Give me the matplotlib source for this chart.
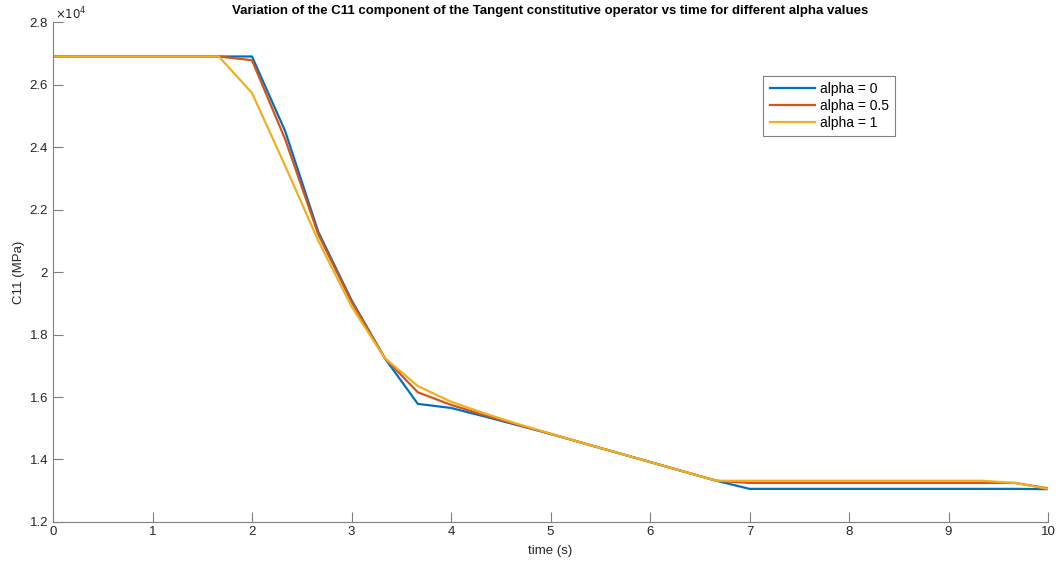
import matplotlib.pyplot as plt
import matplotlib.ticker as mticker
import numpy as np

plt.rcParams['font.family'] = ['Liberation Sans', 'DejaVu Sans']

# time steps (dt = 1/3 s)
time = np.arange(31) / 3.0

# C11 in MPa
c11_alpha0 = [26900, 26900, 26900, 26900, 26900, 26900, 26900, 24510, 21280, 19100,
              17250, 15780, 15650, 15380, 15100, 14820, 14520, 14220, 13920, 13620,
              13320, 13060, 13060, 13060, 13060, 13060, 13060, 13060, 13060, 13060,
              13050]
c11_alpha05 = [26900, 26900, 26900, 26900, 26900, 26900, 26780, 24250, 21200, 19050,
               17250, 16150, 15750, 15420, 15120, 14820, 14520, 14220, 13920, 13620,
               13320, 13250, 13250, 13250, 13250, 13250, 13250, 13250, 13250, 13250,
               13080]
c11_alpha1 = [26900, 26900, 26900, 26900, 26900, 26900, 25730, 23400, 21000, 18900,
              17250, 16350, 15850, 15480, 15140, 14830, 14520, 14220, 13920, 13620,
              13320, 13320, 13320, 13320, 13320, 13320, 13320, 13320, 13320, 13250,
              13060]

labels = ['alpha = 0', 'alpha = 0.5', 'alpha = 1']
colors = ['#0072BD', '#D95319', '#EDB120']

fig = plt.figure(figsize=(10.6, 5.67), dpi=100)
ax = fig.add_axes([0.05, 0.0794, 0.9387, 0.8816])

for y, lab, col in zip([c11_alpha0, c11_alpha05, c11_alpha1], labels, colors):
    ax.plot(time, y, color=col, lw=1.6, label=lab)

ax.set_xlim(0, 10)
ax.set_ylim(12000, 28000)
ax.set_xticks(np.arange(0, 11, 1))
ax.set_yticks(np.arange(12000, 28001, 2000))
ax.yaxis.set_major_formatter(mticker.FuncFormatter(lambda v, p: '%g' % (v / 1e4)))

for s in ['top', 'right']:
    ax.spines[s].set_visible(False)
for s in ['left', 'bottom']:
    ax.spines[s].set_color('#808080')
ax.tick_params(direction='in', length=7, color='#808080', labelsize=9.5,
               labelcolor='#262626')
ax.tick_params(axis='x', pad=3)

ax.text(0.002, 1.0, r'$\times10^4$', transform=ax.transAxes, fontsize=8.5,
        color='#262626', ha='left', va='bottom')

ax.set_xlabel('time (s)', fontsize=9.5, color='#262626', labelpad=5)
ax.set_ylabel('C11 (MPa)', fontsize=9.5, color='#262626', labelpad=3)
ax.set_title('Variation of the C11 component of the Tangent constitutive operator vs time for different alpha values',
             fontsize=9.5, fontweight='bold', pad=6)

leg = ax.legend(loc='upper right', bbox_to_anchor=(0.846, 0.892), fontsize=10,
                fancybox=False, framealpha=1, handlelength=3.3, handletextpad=0.3,
                borderpad=0.45, labelspacing=0.2, borderaxespad=0)
leg.get_frame().set_edgecolor('#808080')
leg.get_frame().set_linewidth(0.8)

fig.savefig('out.png', dpi=100)
